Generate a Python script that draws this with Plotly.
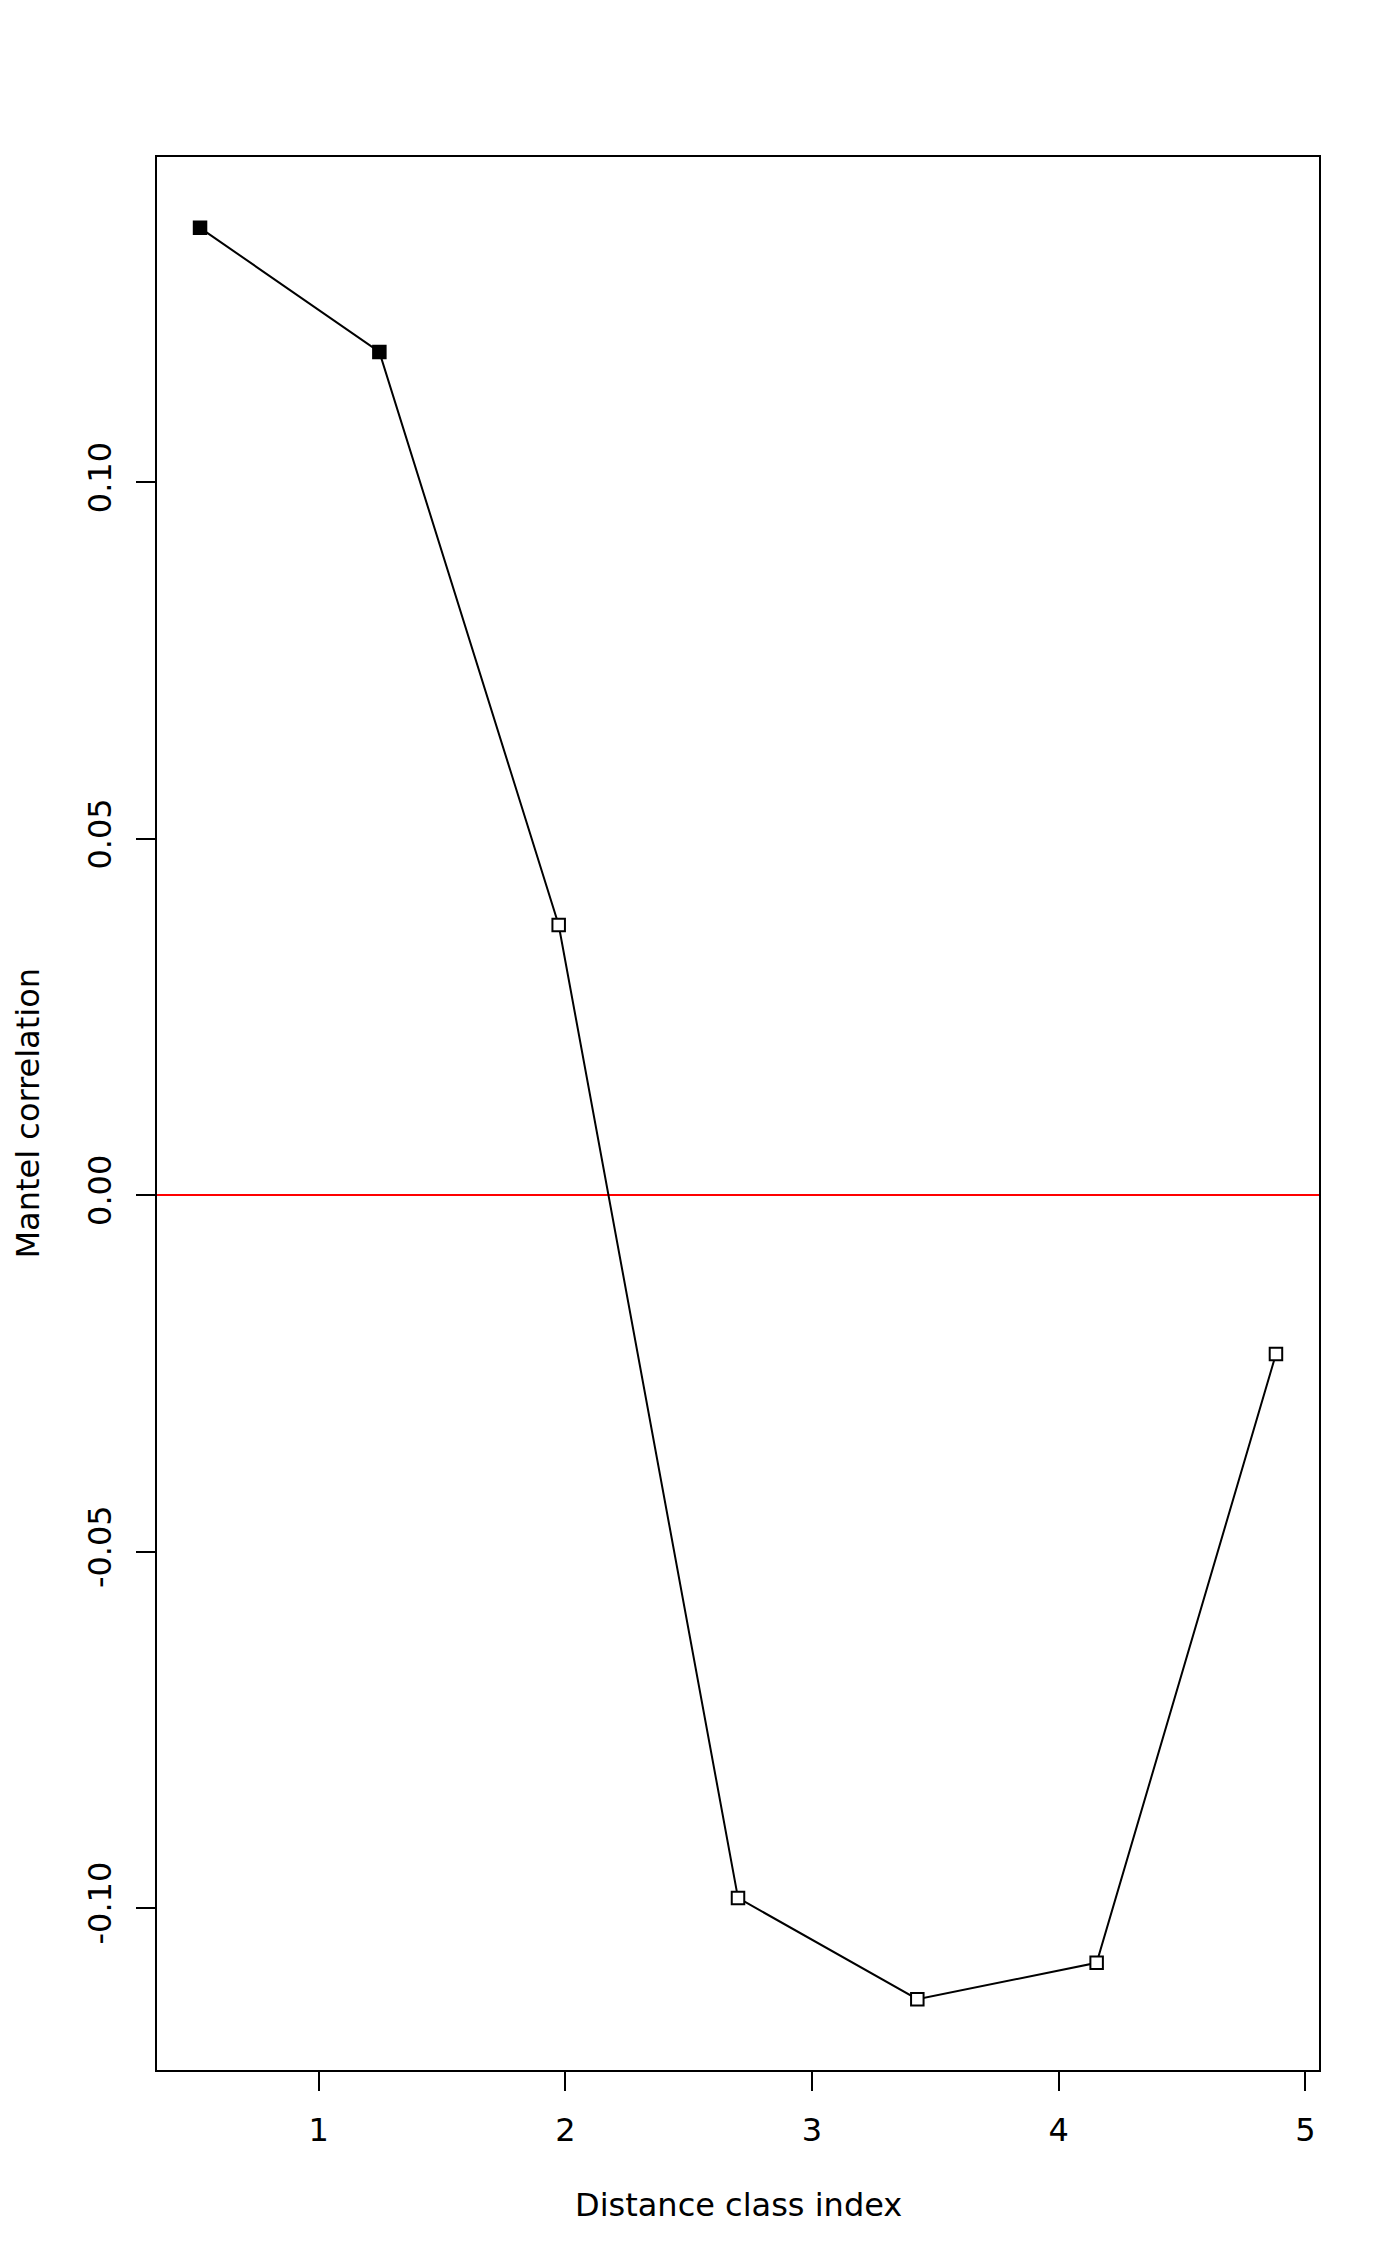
import plotly.graph_objects as go

# Data
class_index = [0.519, 1.246, 1.973, 2.700, 3.427, 4.154, 4.881]
mantel_r = [0.1357, 0.1183, 0.0379, -0.0986, -0.1128, -0.1077, -0.0223]
significant = [True, True, False, False, False, False, False]

x_ticks = [1, 2, 3, 4, 5]
y_ticks = [-0.10, -0.05, 0.00, 0.05, 0.10]
y_tick_text = ["-0.10", "-0.05", "0.00", "0.05", "0.10"]

FONT = "DejaVu Sans"
FS = 32

fill = ["black" if s else "white" for s in significant]

fig = go.Figure()
fig.add_trace(go.Scatter(
    x=class_index, y=mantel_r, mode="lines+markers",
    line=dict(color="black", width=2),
    marker=dict(symbol="square", size=12.5, color=fill,
                line=dict(color="black", width=2)),
    showlegend=False, hoverinfo="x+y",
))

xmin, xmax = min(class_index), max(class_index)
ymin, ymax = min(mantel_r), max(mantel_r)
dx = (xmax - xmin) * 0.04
dy = (ymax - ymin) * 0.04

fig.add_shape(type="line", xref="paper", x0=0, x1=1, yref="y", y0=0, y1=0,
              line=dict(color="red", width=2), layer="below")

fig.update_xaxes(range=[xmin - dx, xmax + dx], tickvals=x_ticks,
                 ticktext=[str(v) for v in x_ticks],
                 showline=True, mirror=True, linecolor="black", linewidth=2,
                 ticks="outside", ticklen=19, tickwidth=2, tickcolor="black",
                 showgrid=False, zeroline=False,
                 tickfont=dict(family=FONT, size=FS, color="black"),
                 ticklabelstandoff=12)
fig.update_yaxes(range=[ymin - dy, ymax + dy], tickvals=y_ticks,
                 ticktext=y_tick_text, tickangle=-90,
                 showline=True, mirror=True, linecolor="black", linewidth=2,
                 ticks="outside", ticklen=19, tickwidth=2, tickcolor="black",
                 showgrid=False, zeroline=False,
                 tickfont=dict(family=FONT, size=FS, color="black"),
                 ticklabelstandoff=12)

fig.add_annotation(text="Distance class index", xref="paper", yref="paper",
                   x=0.5, y=0, yshift=-135, xanchor="center", yanchor="middle",
                   showarrow=False, font=dict(family=FONT, size=FS, color="black"))
fig.add_annotation(text="Mantel correlation", xref="paper", yref="paper",
                   x=0, y=0.5, xshift=-130, xanchor="center", yanchor="middle",
                   textangle=-90, showarrow=False, borderpad=0,
                   font=dict(family=FONT, size=FS, color="black"))

fig.update_layout(width=1400, height=2266,
                  margin=dict(l=149, r=89, t=149, b=204),
                  paper_bgcolor="white", plot_bgcolor="white",
                  font=dict(family=FONT, size=FS, color="black"))

fig.write_html("out.html")
